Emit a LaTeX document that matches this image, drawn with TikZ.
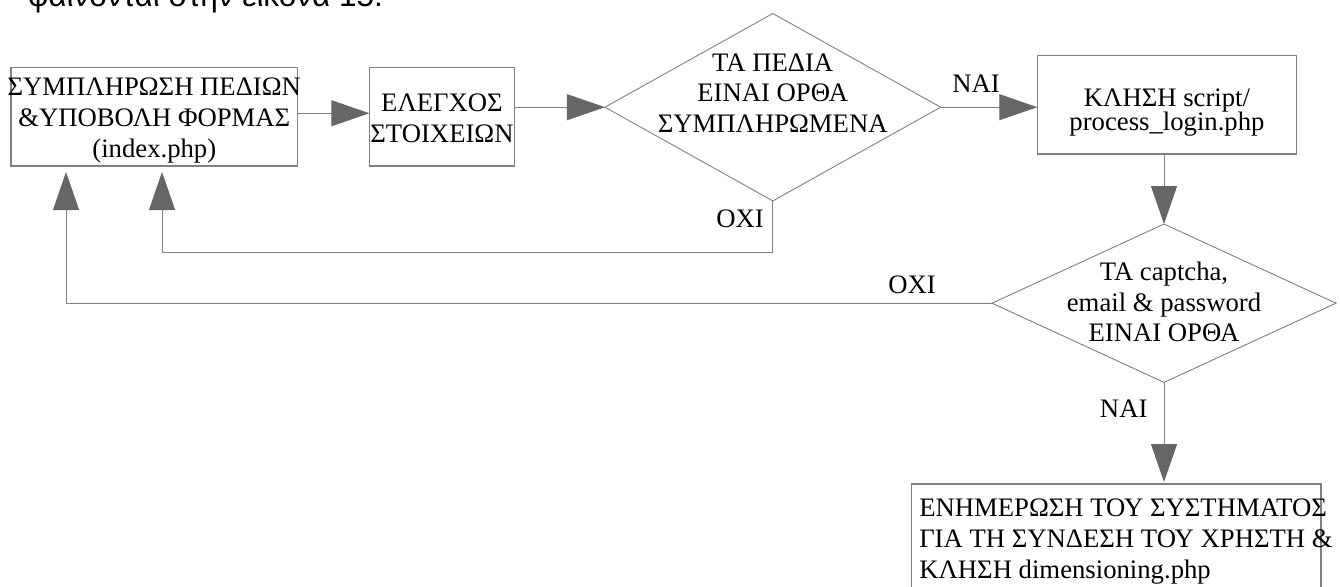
\documentclass[tikz,border=0pt]{standalone}
\usepackage{fontspec}
\setmainfont{Liberation Serif}
\newfontfamily\headsans{Liberation Sans}
\usetikzlibrary{arrows.meta,shapes.geometric}
\definecolor{edgegray}{HTML}{808080}
\definecolor{tipgray}{HTML}{666666}
\begin{document}
\begin{tikzpicture}[x=1pt,y=-1pt,
  every node/.style={inner sep=0pt, outer sep=0pt},
  boxnode/.style={draw=edgegray, line width=1.2pt, rectangle},
  decnode/.style={draw=edgegray, line width=0.9pt, diamond},
  txt/.style={font=\fontsize{26.7}{30.8}\selectfont, align=center, text=black},
  flowarrow/.style={draw=edgegray, line width=1pt,
    -{Triangle[length=38pt,width=26pt,color=tipgray]}}]
\useasboundingbox (0,0) rectangle (1340,586);
\fill[white] (0,0) rectangle (1340,586);
\clip (0,0) rectangle (1340,586);

% running text of the page above the chart
\node[font=\headsans\fontsize{31.5}{36}\selectfont, anchor=base west] (pagetext) at (28,7) {φαίνονται στην εικόνα 15.};

% process boxes and decisions
\node[boxnode, minimum width=286.7pt, minimum height=98.7pt] (b1) at (154.35,116.65) {};
\node[txt] (b1t) at (154.3,120.5) {ΣΥΜΠΛΗΡΩΣΗ ΠΕΔΙΩΝ\\\&ΥΠΟΒΟΛΗ ΦΟΡΜΑΣ\\(index.php)};

\node[boxnode, minimum width=145.4pt, minimum height=98.7pt] (b2) at (442,116.65) {};
\node[txt] (b2t) at (442,117.9) {ΕΛΕΓΧΟΣ\\ΣΤΟΙΧΕΙΩΝ};

\node[decnode, minimum width=335.7pt, minimum height=187.4pt] (d1) at (772.8,107.2) {};
\node[txt] (d1t) at (772.7,93) {ΤΑ ΠΕΔΙΑ\\ΕΙΝΑΙ ΟΡΘΑ\\ΣΥΜΠΛΗΡΩΜΕΝΑ};

\node[boxnode, minimum width=259.4pt, minimum height=98.3pt] (b3) at (1167,104.85) {};
\node[txt, font=\fontsize{26.7}{24.5}\selectfont] (b3t) at (1167,112.5) {ΚΛΗΣΗ script/\\process\_login.php};

\node[decnode, minimum width=344pt, minimum height=158.3pt] (d2) at (1164,303.2) {};
\node[txt] (d2t) at (1164,302) {ΤΑ captcha,\\email \& password\\ΕΙΝΑΙ ΟΡΘΑ};

\node[boxnode, anchor=north west, minimum width=409.3pt, minimum height=150pt] (b4) at (911.7,484) {};
\node[txt, align=left, anchor=north west] (b4t) at (919.3,499) {ΕΝΗΜΕΡΩΣΗ ΤΟΥ ΣΥΣΤΗΜΑΤΟΣ\\ΓΙΑ ΤΗ ΣΥΝΔΕΣΗ ΤΟΥ ΧΡΗΣΤΗ \&\\ΚΛΗΣΗ dimensioning.php};

% branch labels
\node[txt] (yes1) at (976,83.3) {ΝΑΙ};
\node[txt] (no1) at (740,219) {ΟΧΙ};
\node[txt] (no2) at (912,285) {ΟΧΙ};
\node[txt] (yes2) at (1123.7,408.3) {ΝΑΙ};

% connectors
\draw[flowarrow] ([yshift=3.4pt]b1.east) -- ([yshift=3.4pt]b2.west);
\draw[flowarrow] (b2.east |- d1.west) -- (d1.west);
\draw[flowarrow] (d1.east) -- (d1.east -| b3.west);
\draw[flowarrow] (b3.south -| d2.north) -- (d2.north);
\draw[flowarrow, shorten >=2pt] (d2.south) -- (d2.south |- b4.north);
\draw[flowarrow, shorten >=6pt] (d1.south) -- ++(0,51.6) -| ([xshift=7.7pt]b1.south);
\draw[flowarrow, shorten >=6pt] (d2.west) -| ([xshift=-88.3pt]b1.south);
\end{tikzpicture}
\end{document}
